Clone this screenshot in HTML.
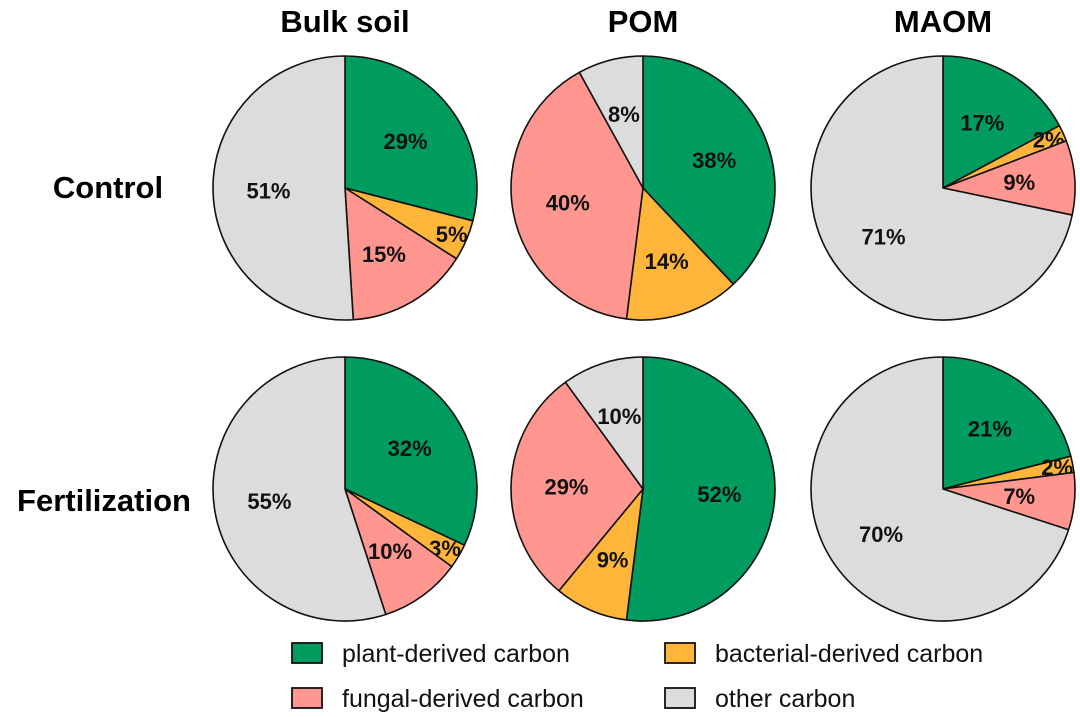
<!DOCTYPE html>
<html><head><meta charset="utf-8"><style>
body{margin:0;background:#fff}
svg{display:block;font-family:"Liberation Sans",Arial,sans-serif}
</style></head><body>
<svg id="chart" width="1080" height="717" viewBox="0 0 1080 717">
<g id="pies"></g>
<g id="legend"></g>
</svg>
<script>
const columns = ["Bulk soil","POM","MAOM"];
const rows = ["Control","Fertilization"];
const categories = ["plant-derived carbon","bacterial-derived carbon","fungal-derived carbon","other carbon"];
const controlValues = [[29,5,15,51],[38,14,40,8],[17,2,9,71]];
const fertValues = [[32,3,10,55],[52,9,29,10],[21,2,7,70]];
const colors = ["#009b5e","#ffb43a","#ff968f","#dcdcdc"];
const NS="http://www.w3.org/2000/svg";
const svg=document.getElementById('chart');
const pies=document.getElementById('pies');
const colX=[345,643,943], rowY=[188,489], R=132;
function mk(tag,attrs,parent){const e=document.createElementNS(NS,tag);for(const k in attrs)e.setAttribute(k,attrs[k]);parent.appendChild(e);return e;}
columns.forEach((c,i)=>{const t=mk('text',{x:colX[i],y:32,'text-anchor':'middle','font-size':31,'font-weight':'bold'},svg);t.textContent=c;
});
const rowLX=[108,104];
rows.forEach((r,j)=>{const t=mk('text',{x:rowLX[j],y:rowY[j]+(j?22:10),'text-anchor':'middle','font-size':31,'font-weight':'bold'},svg);t.textContent=r;
});
[controlValues,fertValues].forEach((vals,j)=>{
 vals.forEach((v,i)=>{
  const cx=colX[i],cy=rowY[j];
  const total=v.reduce((a,b)=>a+b,0);
  const g=mk('g',{},pies);
  
  
  let a0=0;
  v.forEach((val,k)=>{
   const a1=a0+val/total*2*Math.PI;
   const x0=cx+R*Math.sin(a0),y0=cy-R*Math.cos(a0),x1=cx+R*Math.sin(a1),y1=cy-R*Math.cos(a1);
   const large=(a1-a0)>Math.PI?1:0;
   const p=mk('path',{d:`M${cx},${cy}L${x0},${y0}A${R},${R} 0 ${large} 1 ${x1},${y1}Z`,fill:colors[k],stroke:'#111','stroke-width':1.6,'stroke-linejoin':'round'},g);
   
   
   const am=(a0+a1)/2, f=val<6?0.88:0.58;
   const t=mk('text',{x:cx+f*R*Math.sin(am),y:cy-f*R*Math.cos(am)+8,'text-anchor':'middle','font-size':22,'font-weight':'bold',fill:'#111'},g);
   t.textContent=val+'%';
   
   
   a0=a1;
  });
 });
});
const leg=document.getElementById('legend');
const legPos=[[292,643],[665,643],[292,688],[665,688]];
const legOrder=[0,1,2,3];
legOrder.forEach((k,n)=>{
 const [x,y]=legPos[n];
 const g=mk('g',{},leg);
 
 
 mk('rect',{x:x,y:y,width:30,height:20,fill:colors[k],stroke:'#111','stroke-width':1.8},g);
 const t=mk('text',{x:x+50,y:y+19,'font-size':25,fill:'#111'},g);
 t.textContent=categories[k];
});
</script>
</body></html>
